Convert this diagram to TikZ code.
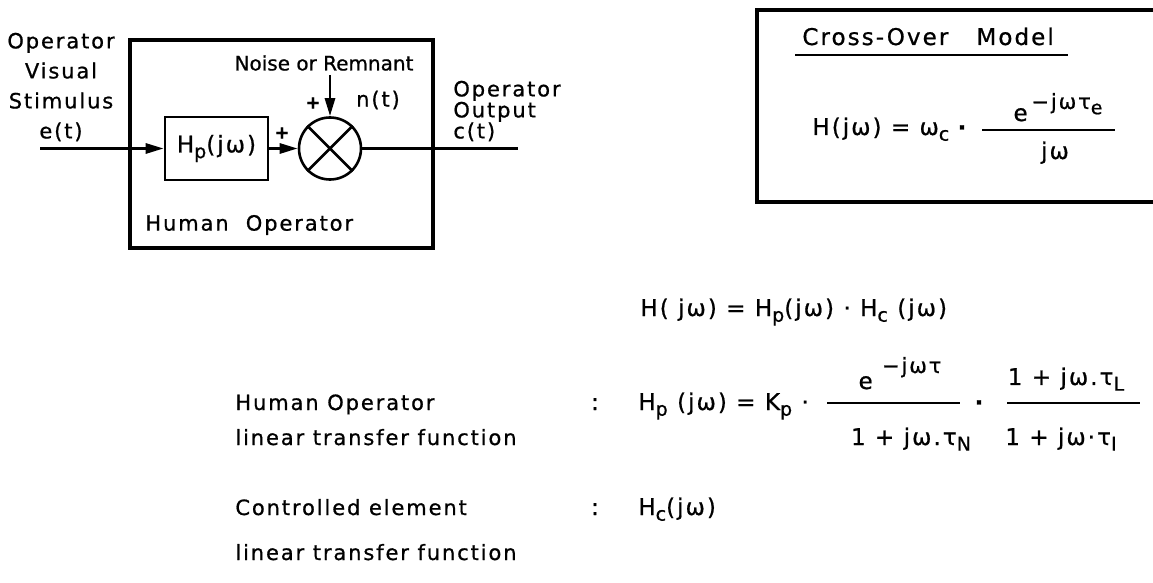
\documentclass[tikz,border=0pt]{standalone}
\usepackage{fontspec}
\setmainfont{DejaVu Sans}[FakeBold=0.8]
\newfontfamily\wide{DejaVu Sans}[LetterSpace=9,FakeBold=0.8]
\usetikzlibrary{arrows.meta,positioning}
\newcommand{\up}[2]{\raisebox{#1}{\fontsize{10.5}{12}\selectfont #2}}
\newcommand{\dn}[1]{\raisebox{-0.45ex}{\fontsize{9.5}{10}\selectfont #1}}

\begin{document}
\begin{tikzpicture}[x=0.5pt,y=-0.5pt,>={Triangle[length=9pt,width=5pt]},
  lbl/.style={inner sep=0pt,font=\wide\fontsize{10.5}{14}\selectfont},
  frm/.style={inner sep=0pt,anchor=base west,font=\wide\fontsize{11.5}{13}\selectfont},
  blk/.style={draw,line width=1.3pt,minimum width=51.5pt,minimum height=31.5pt,inner sep=0pt,
              font=\wide\fontsize{11.5}{13}\selectfont},
  sumc/.style={draw,circle,line width=1.3pt,minimum size=31pt,inner sep=0pt},
  sig/.style={line width=1.4pt},
  bar/.style={line width=0.9pt}]
\useasboundingbox (0,0) rectangle (1153,583);

%============================== the human operator loop ==============================
\node[draw,line width=1.6pt,minimum width=151.5pt,minimum height=104pt] (hobox) at (281.5,144) {};
\node[lbl,anchor=west] (holbl) at (145,225) {Human\ \ Operator};

\node[blk] (hp) at (216.5,148.5) {H\dn{p}(jω)};
\node[sumc] (sum) at (330,148.5) {};
\draw[line width=1.3pt] (sum.north east) -- (sum.south west) (sum.north west) -- (sum.south east);

\coordinate (ein) at (40,148.5);
\coordinate (cout) at (518,148.5);
\coordinate (nin) at (330,75);
\draw[sig,->] (ein) -- (hp);
\draw[sig,->] (hp) -- (sum);
\draw[sig] (sum) -- (cout);
\draw[sig,->] (nin) -- (sum);

\node[lbl,font=\fontsize{10}{12}\selectfont] (noise) at (324,63) {Noise or Remnant};
\node[lbl,font=\bfseries\fontsize{9}{10}\selectfont] (pl1) at (313,103) {+};
\node[lbl,font=\bfseries\fontsize{9}{10}\selectfont] (pl2) at (282,133) {+};
\node[lbl] (nt) at (378,100) {n(t)};

\node[lbl,align=center] (stim) at (61,87) {Operator\\[1pt]Visual\\[1pt]Stimulus\\[1pt]e(t)};
\node[lbl,align=left,anchor=west,font=\wide\fontsize{10.5}{10.5}\selectfont] (outp) at (453,111) {Operator\\Output\\c(t)};

%============================== cross-over model ==============================
\draw[line width=1.6pt] (1170,10) -- (757,10) -- (757,202) -- (1170,202);
\node[frm] (cotitle) at (802,45) {Cross-Over\ \ \ Model};
\draw[line width=1pt] (795,55) -- (1068,55);
\node[frm] (colhs) at (812,135) {H(jω) = ω\dn{c}};
\node[frm,anchor=base,font=\bfseries\fontsize{11}{13}\selectfont] (codot) at (962,135) {·};
\node[frm,anchor=base] (conum) at (1058,121) {e\,\up{6pt}{−jωτ\dn{e}}};
\node[frm,anchor=base] (coden) at (1055,159) {jω};
\draw[bar] (982,130) -- (1115,130);

%============================== transfer functions ==============================
\node[frm] (htot) at (640,316) {H( jω) = H\dn{p}(jω) · H\dn{c} (jω)};

\node[lbl,anchor=base west] (hotxt) at (235,410) {Human\ Operator};
\node[lbl,anchor=base west] (hotxt2) at (235,445) {linear\ transfer\ function};
\node[frm,anchor=base] (col1) at (595,410) {:};
\node[frm] (hplhs) at (638,410) {H\dn{p} (jω) = K\dn{p} ·};

\node[frm,anchor=base] (num1) at (900,389) {e \up{8pt}{−jωτ}};
\node[frm,anchor=base] (den1) at (911,445) {1 + jω.τ\dn{N}};
\draw[bar] (827,403) -- (960,403);
\node[frm,anchor=base,font=\bfseries\fontsize{11}{13}\selectfont] (dot2) at (979,410) {·};
\node[frm,anchor=base] (num2) at (1066,385) {1 + jω.τ\dn{L}};
\node[frm,anchor=base] (den2) at (1061,445) {1 + jω·τ\dn{I}};
\draw[bar] (1007,403) -- (1140,403);

\node[lbl,anchor=base west] (cetxt) at (235,515) {Controlled\ element};
\node[lbl,anchor=base west] (cetxt2) at (235,560) {linear\ transfer\ function};
\node[frm,anchor=base] (col2) at (595,515) {:};
\node[frm] (hc) at (638,515) {H\dn{c}(jω)};
\end{tikzpicture}
\end{document}
